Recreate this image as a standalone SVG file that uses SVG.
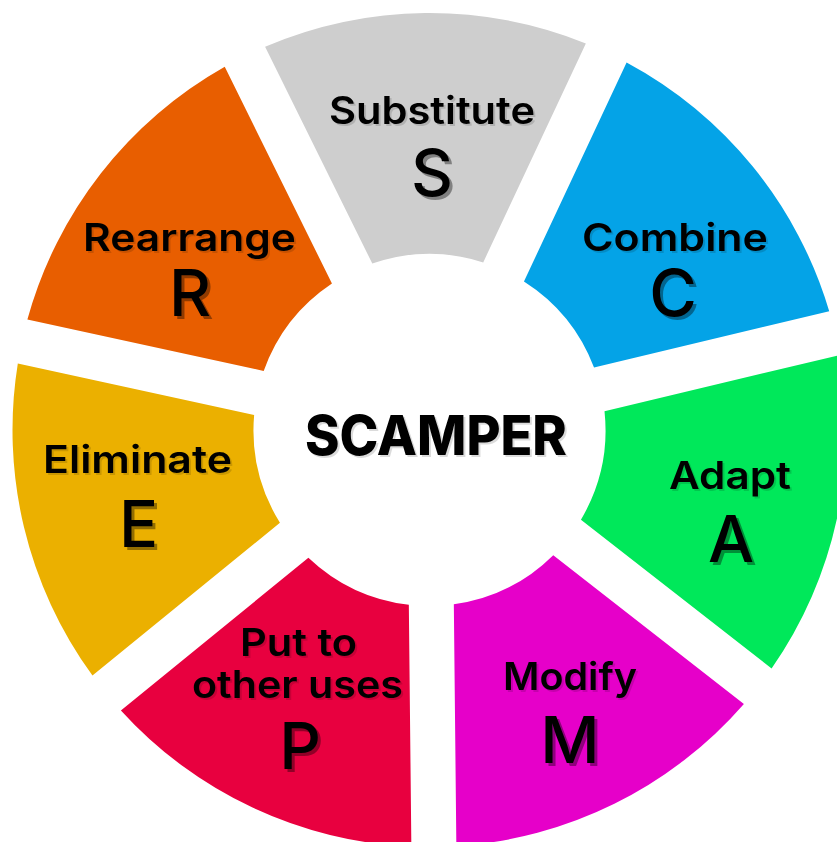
<svg xmlns="http://www.w3.org/2000/svg" width="837" height="842" viewBox="0 0 837 842">
  <style>
    .lbl { font-family: Inter, "Liberation Sans", "DejaVu Sans", sans-serif; font-weight: 600; font-size: 38px; fill: #000; text-anchor: middle; filter: url(#shLight); }
    .big { font-family: Inter, "Liberation Sans", "DejaVu Sans", sans-serif; font-weight: 500; font-size: 65px; fill: #000; text-anchor: middle; filter: url(#shDark); }
    .title { font-family: Inter, "Liberation Sans", "DejaVu Sans", sans-serif; font-weight: 800; font-size: 55px; fill: #000; text-anchor: middle; filter: url(#shLight); }
  </style>
  <defs>
    <filter id="shDark" x="-20%" y="-20%" width="140%" height="140%">
      <feDropShadow dx="3" dy="3" stdDeviation="0.4" flood-color="#000" flood-opacity="0.38"/>
    </filter>
    <filter id="shLight" x="-10%" y="-20%" width="120%" height="140%">
      <feDropShadow dx="2" dy="2" stdDeviation="0.5" flood-color="#000" flood-opacity="0.14"/>
    </filter>
  </defs>
  <rect width="837" height="842" fill="#ffffff"/>

  <g id="substitute">
    <path d="M265.09,46.79 A417,417 0 0 1 585.85,43.42 L483.22,262.39 A176,176 0 0 0 372.29,263.56 Z" fill="#cecece"/>
    <text class="lbl" x="432" y="124" textLength="206" lengthAdjust="spacingAndGlyphs">Substitute</text>
    <text class="big" x="432" y="196">S</text>
  </g>

  <g id="combine">
    <path d="M626.59,62.52 A417,417 0 0 1 829.22,311.22 L594.03,367.50 A176,176 0 0 0 523.96,281.49 Z" fill="#04a3e7"/>
    <text class="lbl" x="675" y="251" textLength="186" lengthAdjust="spacingAndGlyphs">Combine</text>
    <text class="big" x="673" y="316">C</text>
  </g>

  <g id="adapt">
    <path d="M839.70,354.98 A417,417 0 0 1 771.59,668.45 L580.95,519.66 A176,176 0 0 0 604.51,411.26 Z" fill="#00e85a"/>
    <text class="lbl" x="730" y="489" textLength="122" lengthAdjust="spacingAndGlyphs">Adapt</text>
    <text class="big" x="731" y="562">A</text>
  </g>

  <g id="modify">
    <path d="M743.91,703.93 A417,417 0 0 1 456.36,846.13 L453.83,604.31 A176,176 0 0 0 553.27,555.14 Z" fill="#e600c9"/>
    <text class="lbl" x="570" y="690" textLength="134" lengthAdjust="spacingAndGlyphs">Modify</text>
    <text class="big" x="570" y="763">M</text>
  </g>

  <g id="put-to-other-uses">
    <path d="M411.36,846.61 A417,417 0 0 1 120.90,710.45 L308.38,557.70 A176,176 0 0 0 408.83,604.79 Z" fill="#e8003f"/>
    <text class="lbl" x="298.5" y="656" textLength="117" lengthAdjust="spacingAndGlyphs">Put to</text>
    <text class="lbl" x="297.5" y="698" textLength="211" lengthAdjust="spacingAndGlyphs">other uses</text>
    <text class="big" x="300" y="769">P</text>
  </g>

  <g id="eliminate">
    <path d="M92.48,675.57 A417,417 0 0 1 17.82,363.59 L254.14,414.93 A176,176 0 0 0 279.96,522.82 Z" fill="#ebb000"/>
    <text class="lbl" x="137.5" y="473" textLength="189" lengthAdjust="spacingAndGlyphs">Eliminate</text>
    <text class="big" x="138.5" y="547">E</text>
  </g>

  <g id="rearrange">
    <path d="M27.38,319.61 A417,417 0 0 1 224.75,66.73 L331.95,283.50 A176,176 0 0 0 263.70,370.95 Z" fill="#e85e00"/>
    <text class="lbl" x="189.5" y="251" textLength="213" lengthAdjust="spacingAndGlyphs">Rearrange</text>
    <text class="big" x="190" y="316">R</text>
  </g>

  <g id="scamper">
    <text class="title" x="436" y="455" textLength="262" lengthAdjust="spacingAndGlyphs">SCAMPER</text>
  </g>
</svg>
